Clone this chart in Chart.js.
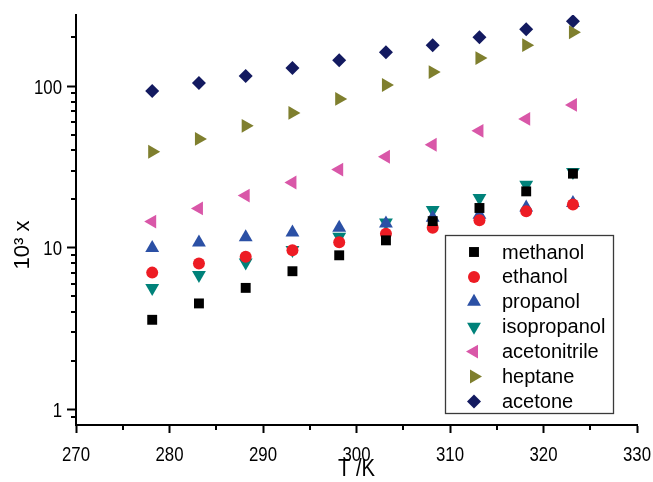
<!DOCTYPE html>
<html>
<head>
<meta charset="utf-8">
<script src="https://cdn.jsdelivr.net/npm/chart.js@4/dist/chart.umd.min.js"></script>
<style>
html,body{margin:0;padding:0;background:#fff;}
#wrap{width:653px;height:482px;position:relative;}
</style>
</head>
<body>
<div id="wrap"><canvas id="c" width="653" height="482"></canvas></div>
<script>
// ---- data ----
const temperatures = [278.15, 283.15, 288.15, 293.15, 298.15, 303.15, 308.15, 313.15, 318.15, 323.15];
const methanol     = [3.58, 4.52, 5.64, 7.15, 8.97, 11.1, 14.6, 17.6, 22.3, 28.7];
const ethanol      = [7.01, 7.97, 8.8, 9.65, 10.8, 12.2, 13.3, 14.8, 16.8, 18.5];
const propanol     = [9.94, 10.75, 11.6, 12.4, 13.3, 14.1, 15.3, 16.0, 17.7, 18.9];
const isopropanol  = [5.63, 6.77, 8.09, 9.69, 11.7, 14.3, 17.1, 20.3, 24.5, 29.4];
const acetonitrile = [14.5, 17.5, 21.0, 25.3, 30.4, 36.5, 43.3, 52.8, 62.6, 76.4];
const heptane      = [39.2, 47.1, 56.7, 68.2, 83.2, 101.4, 122, 148.8, 178.9, 215];
const acetone      = [93.1, 104.4, 115.2, 129.1, 144.6, 162.0, 178.9, 200.4, 224.5, 251.5];
const seriesNames  = ['methanol', 'ethanol', 'propanol', 'isopropanol', 'acetonitrile', 'heptane', 'acetone'];
const xTickValues  = [270, 280, 290, 300, 310, 320, 330];
const xMinorTicks  = [275, 285, 295, 305, 315, 325];
const yTickValues  = [1, 10, 100];
const yMinorTicks  = [0.9, 2, 3, 4, 5, 6, 7, 8, 9, 20, 30, 40, 50, 60, 70, 80, 90, 200];
const xTitle = 'T /K';
const yTitle = '10\u00B3 x';

// ---- styles ----
const seriesValues = [methanol, ethanol, propanol, isopropanol, acetonitrile, heptane, acetone];
const styles = [
  {color:'#000000', pointStyle:'rect',     rotation:0,   radius:7},
  {color:'#ed1c24', pointStyle:'circle',   rotation:0,   radius:6},
  {color:'#2b50a5', pointStyle:'triangle', rotation:0,   radius:8},
  {color:'#00827a', pointStyle:'triangle', rotation:180, radius:8},
  {color:'#d957a8', pointStyle:'triangle', rotation:270, radius:8},
  {color:'#7f7f2e', pointStyle:'triangle', rotation:90,  radius:8},
  {color:'#131a60', pointStyle:'rectRot',  rotation:0,   radius:7}
];
const plainFamily = '"Liberation Sans", Arial, sans-serif';

const datasets = seriesNames.map((name, i) => ({
  label: name,
  data: temperatures.map((t, j) => ({x: t, y: seriesValues[i][j]})),
  showLine: false,
  pointStyle: styles[i].pointStyle,
  rotation: styles[i].rotation,
  pointRadius: styles[i].radius,
  pointHoverRadius: styles[i].radius,
  backgroundColor: styles[i].color,
  borderColor: styles[i].color,
  borderWidth: 0
}));

function drawMarker(ctx, st, x, y){
  ctx.save();
  ctx.fillStyle = st.color;
  ctx.strokeStyle = st.color;
  if (window.Chart && Chart.helpers && Chart.helpers.drawPoint) {
    Chart.helpers.drawPoint(ctx, {pointStyle: st.pointStyle, rotation: st.rotation, radius: st.radius, borderWidth: 0}, x, y);
  } else {
    ctx.beginPath();
    ctx.arc(x, y, st.radius, 0, Math.PI*2);
    ctx.fill();
  }
  ctx.restore();
}

function condensedText(ctx, text, x, y, align, sx){
  ctx.save();
  ctx.translate(x, y);
  ctx.scale(sx, 1);
  ctx.textAlign = align;
  ctx.fillText(text, 0, 0);
  ctx.restore();
}

const extras = {
  id: 'extras',
  afterDraw(chart){
    const ctx = chart.ctx;
    const xs = chart.scales.x, ys = chart.scales.y;
    const area = chart.chartArea;
    ctx.save();
    // minor ticks
    ctx.strokeStyle = '#000';
    ctx.lineWidth = 2;
    ctx.beginPath();
    xMinorTicks.forEach(v => {
      const px = Math.round(xs.getPixelForValue(v));
      ctx.moveTo(px, area.bottom);
      ctx.lineTo(px, area.bottom + 5);
    });
    yMinorTicks.forEach(v => {
      const py = Math.round(ys.getPixelForValue(v));
      if (py < area.top || py > area.bottom) return;
      ctx.moveTo(area.left, py);
      ctx.lineTo(area.left - 5, py);
    });
    ctx.stroke();

    // tick labels (condensed)
    ctx.fillStyle = '#000';
    ctx.font = '21px ' + plainFamily;
    ctx.textBaseline = 'alphabetic';
    xTickValues.forEach(v => {
      condensedText(ctx, String(v), xs.getPixelForValue(v), 461, 'center', 0.8);
    });
    yTickValues.forEach(v => {
      condensedText(ctx, String(v), area.left - 14, ys.getPixelForValue(v) + 7.5, 'right', 0.8);
    });

    // x axis title
    ctx.font = '23px ' + plainFamily;
    condensedText(ctx, xTitle, (area.left + area.right) / 2, 476, 'center', 0.88);

    // y axis title
    ctx.font = '22px ' + plainFamily;
    ctx.textAlign = 'center';
    ctx.textBaseline = 'middle';
    ctx.translate(23, 245);
    ctx.rotate(-Math.PI/2);
    ctx.fillText(yTitle, 0, 0);
    ctx.restore();

    // legend
    ctx.save();
    ctx.strokeStyle = '#3a3a3a';
    ctx.lineWidth = 1.3;
    ctx.strokeRect(445.5, 235.5, 168, 178);
    ctx.font = '20px ' + plainFamily;
    ctx.textAlign = 'left';
    ctx.textBaseline = 'middle';
    seriesNames.forEach((name, i) => {
      const y = 252 + i * 24.9;
      drawMarker(ctx, styles[i], 474, y);
      ctx.fillStyle = '#000';
      ctx.fillText(name, 502, y + 1);
    });
    ctx.restore();
  }
};

new Chart(document.getElementById('c'), {
  type: 'scatter',
  data: {datasets},
  options: {
    responsive: false,
    animation: false,
    layout: {padding: {top: 15, right: 16, left: 0, bottom: 0}},
    plugins: {legend: {display: false}, tooltip: {enabled: false}},
    scales: {
      x: {
        type: 'linear',
        min: 270, max: 330,
        afterBuildTicks: s => { s.ticks = xTickValues.map(v => ({value: v})); },
        afterFit: s => { s.height = 57; },
        grid: {display: true, drawOnChartArea: false, drawTicks: true, tickLength: 8, tickWidth: 2, tickColor: '#000', color: '#000'},
        border: {display: true, color: '#000', width: 2},
        ticks: {display: false},
        title: {display: false}
      },
      y: {
        type: 'logarithmic',
        min: 0.8, max: 275,
        afterBuildTicks: s => { s.ticks = yTickValues.map(v => ({value: v})); },
        afterFit: s => { s.width = 76; },
        grid: {display: true, drawOnChartArea: false, drawTicks: true, tickLength: 9, tickWidth: 2, tickColor: '#000', color: '#000'},
        border: {display: true, color: '#000', width: 2},
        ticks: {display: false},
        title: {display: false}
      }
    }
  },
  plugins: [extras]
});
</script>
</body>
</html>
